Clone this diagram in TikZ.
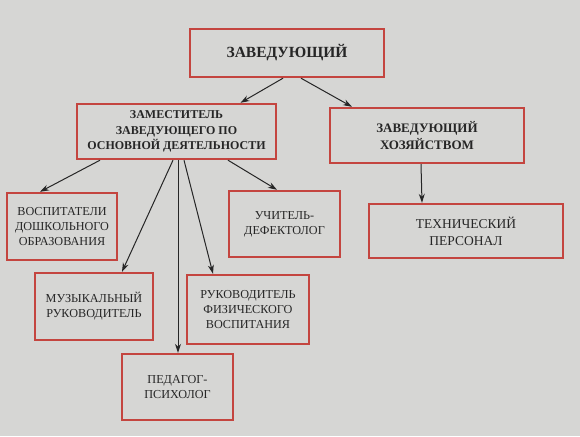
\documentclass[tikz,border=0pt]{standalone}
\usepackage{fontspec}
\setmainfont{Liberation Serif}
\usetikzlibrary{arrows.meta}
\definecolor{paper}{HTML}{D6D6D4}
\definecolor{boxred}{HTML}{C4453F}
\definecolor{ink}{HTML}{262626}
\tikzset{
  post/.style={draw=boxred, line width=2.4pt, align=center, text=ink,
    inner sep=2pt, font=\fontsize{12.2}{15}\selectfont},
  head/.style={post, font=\bfseries\fontsize{12}{15.5}\selectfont},
  link/.style={draw=ink, line width=1pt, -{Stealth[length=9pt,width=6pt]}}
}
\begin{document}
\begin{tikzpicture}[x=1pt,y=-1pt]
        \fill[paper] (0,0) rectangle (580,436);
        \node[head, minimum width=194pt, minimum height=48pt, font=\bfseries\fontsize{15.5}{18}\selectfont](boss) at (287,53) {ЗАВЕДУЮЩИЙ};
        \node[head, minimum width=199pt, minimum height=55pt](deputy) at (176.5,131.5) {ЗАМЕСТИТЕЛЬ\\ЗАВЕДУЮЩЕГО ПО\\ОСНОВНОЙ ДЕЯТЕЛЬНОСТИ};
        \node[head, minimum width=194pt, minimum height=55pt, font=\bfseries\fontsize{13}{17}\selectfont](hoz) at (427,135.5) {ЗАВЕДУЮЩИЙ\\ХОЗЯЙСТВОМ};
        \node[post, minimum width=110pt, minimum height=67pt](vosp) at (62,226.5) {ВОСПИТАТЕЛИ\\ДОШКОЛЬНОГО\\ОБРАЗОВАНИЯ};
        \node[post, minimum width=111pt, minimum height=66pt](defect) at (284.5,224) {УЧИТЕЛЬ-\\ДЕФЕКТОЛОГ};
        \node[post, minimum width=194pt, minimum height=54pt, font=\fontsize{13.5}{17}\selectfont](tech) at (466,231) {ТЕХНИЧЕСКИЙ\\ПЕРСОНАЛ};
        \node[post, minimum width=118pt, minimum height=67pt](muz) at (94,306.5) {МУЗЫКАЛЬНЫЙ\\РУКОВОДИТЕЛЬ};
        \node[post, minimum width=122pt, minimum height=69pt](fiz) at (248,309.5) {РУКОВОДИТЕЛЬ\\ФИЗИЧЕСКОГО\\ВОСПИТАНИЯ};
        \node[post, minimum width=111pt, minimum height=66pt](psych) at (177.5,387) {ПЕДАГОГ-\\ПСИХОЛОГ};
        \draw[link]([xshift=-4pt]boss.south)--([xshift=64pt]deputy.north);
        \draw[link]([xshift=14pt]boss.south)--([xshift=-75pt]hoz.north);
        \draw[link]([xshift=-76.5pt]deputy.south)--([xshift=-22pt]vosp.north);
        \draw[link]([xshift=-3.5pt]deputy.south)--([xshift=28pt]muz.north);
        \draw[link]([xshift=1.5pt]deputy.south)--([xshift=0.5pt]psych.north);
        \draw[link]([xshift=7.5pt]deputy.south)--([xshift=-35pt]fiz.north);
        \draw[link]([xshift=51.5pt]deputy.south)--([xshift=-7.5pt]defect.north);
        \draw[link]([xshift=-6pt]hoz.south)--([xshift=-44pt]tech.north);
        \end{tikzpicture}
\end{document}
